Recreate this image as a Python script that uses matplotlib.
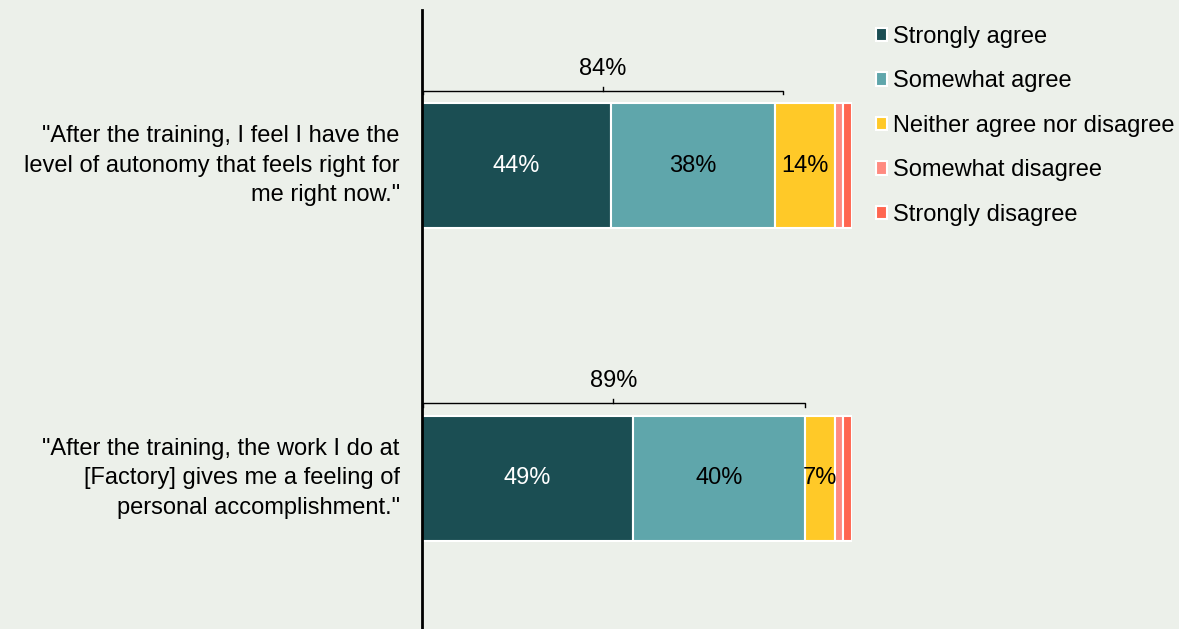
import numpy as np
import matplotlib.pyplot as plt
from matplotlib.transforms import ScaledTranslation

# Survey responses (percent of respondents)
statements = ['"After the training, I feel I have the\nlevel of autonomy that feels right for\nme right now."',
              '"After the training, the work I do at\n[Factory] gives me a feeling of\npersonal accomplishment."']
responses = ['Strongly agree', 'Somewhat agree', 'Neither agree nor disagree',
             'Somewhat disagree', 'Strongly disagree']
strongly_agree = [44, 49]
somewhat_agree = [38, 40]
neutral = [14, 7]
somewhat_disagree = [2, 2]
strongly_disagree = [2, 2]
agree_total = [84, 89]

colors = ['#1b4e53', '#5fa6ab', '#ffc928', '#ff8a80', '#ff6650']
bg = '#ecf0ea'
fs = 17

plt.rcParams['font.family'] = ['Liberation Sans', 'DejaVu Sans']

fig = plt.figure(figsize=(11.79, 6.29), dpi=100, facecolor=bg)
ax = fig.add_axes([422 / 1179, 0, 430 / 1179, 619 / 629])
ax.set_facecolor(bg)

y = np.arange(len(statements))
series = [strongly_agree, somewhat_agree, neutral, somewhat_disagree, strongly_disagree]
left = np.zeros(len(statements))
for vals, col, name in zip(series, colors, responses):
    vals = np.array(vals)
    bars = ax.barh(y, vals, left=left, height=0.4, color=col,
                   edgecolor='white', linewidth=1.5, label=name)
    if vals.max() >= 5:
        tc = 'white' if col == colors[0] else 'black'
        for b, v in zip(bars, vals):
            ax.text(b.get_x() + b.get_width() / 2, b.get_y() + b.get_height() / 2,
                    f'{v}%', ha='center', va='center', fontsize=fs, color=tc)
    left += vals

# brackets over the combined agree share
for yi, tot in zip(y, agree_total):
    top = yi - 0.2 - 0.04
    ax.plot([0.2, 0.2, tot, tot], [top + 0.012, top, top, top + 0.012],
            color='black', lw=1, clip_on=False)
    ax.plot([tot / 2, tot / 2], [top, top - 0.012], color='black', lw=1)
    ax.text(tot / 2, top - 0.035, f'{tot}%', ha='center', va='bottom', fontsize=fs)

ax.set_xlim(0, 100)
ax.set_ylim(1.483, -0.498)
ax.set_yticks(y)
ax.set_yticklabels(statements, fontsize=fs, linespacing=1.43, ha='right')
ax.tick_params(axis='y', length=0, pad=16)
# nudge the wrapped statements up a little
for lab in ax.get_yticklabels():
    lab.set_transform(lab.get_transform() + ScaledTranslation(0, 0.06, fig.dpi_scale_trans))
ax.set_xticks([])
for s in ['top', 'right', 'bottom']:
    ax.spines[s].set_visible(False)
ax.spines['left'].set_linewidth(2)

fig.legend(loc='upper left', bbox_to_anchor=(859 / 1179, 0.985), frameon=False,
           fontsize=fs, handlelength=0.5, handleheight=0.5, handletextpad=0.25,
           labelspacing=0.95, borderaxespad=0.3)

fig.savefig('out.png', dpi=100, facecolor=bg)
